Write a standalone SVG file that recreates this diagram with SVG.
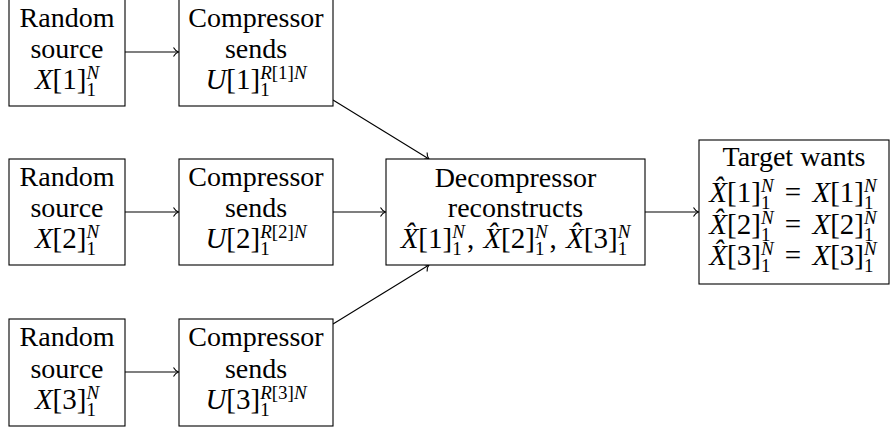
<svg xmlns="http://www.w3.org/2000/svg" width="892" height="431" viewBox="0 0 892 431">
<style>
.box{fill:#fff;stroke:#000;stroke-width:1.1}
.c{fill:none;stroke:#000;stroke-width:1.1}
text{font-family:"Liberation Serif",serif;font-size:28px;text-anchor:middle;fill:#000}
.m{font-size:29px}
.i{font-style:italic}
.s{font-size:19px}
</style>
<defs>
<marker id="to" viewBox="-7 -6 9 12" refX="0" refY="0" markerWidth="9" markerHeight="12" markerUnits="userSpaceOnUse" orient="auto">
<path d="M-5,-4.5 C-3.5,-1.8 -1.5,-0.5 0,0 C-1.5,0.5 -3.5,1.8 -5,4.5" fill="none" stroke="#000" stroke-width="1.1"/>
</marker>
</defs>
<g id="connectors">
<line class="c" x1="125" y1="52" x2="178.5" y2="52" marker-end="url(#to)"/>
<line class="c" x1="125" y1="212" x2="178.5" y2="212" marker-end="url(#to)"/>
<line class="c" x1="125" y1="372" x2="178.5" y2="372" marker-end="url(#to)"/>
<line class="c" x1="333" y1="100" x2="429" y2="159" marker-end="url(#to)"/>
<line class="c" x1="333" y1="212" x2="385.5" y2="212" marker-end="url(#to)"/>
<line class="c" x1="333" y1="324" x2="429" y2="265" marker-end="url(#to)"/>
<line class="c" x1="645" y1="212" x2="698.5" y2="212" marker-end="url(#to)"/>
</g>
<g id="source1">
<rect class="box" x="9" y="-1.2" width="116" height="107.2"/>
<text x="67" y="27">Random</text>
<text x="67" y="58">source</text>
<text class="m" x="67" y="89"><tspan class="i">X</tspan>[1]<tspan class="s" dy="7">1</tspan><tspan class="s i" dx="-9.5" dy="-17">N</tspan></text>
</g>
<g id="compressor1">
<rect class="box" x="179" y="-1.2" width="154" height="107.2"/>
<text x="256" y="27">Compressor</text>
<text x="256" y="58">sends</text>
<text class="m" x="256" y="89"><tspan class="i">U</tspan>[1]<tspan class="s" dy="7">1</tspan><tspan class="s" dx="-9.5" dy="-17"><tspan class="i">R</tspan>[1]<tspan class="i">N</tspan></tspan></text>
</g>
<g id="source2">
<rect class="box" x="9" y="159" width="116" height="106"/>
<text x="67" y="186">Random</text>
<text x="67" y="217">source</text>
<text class="m" x="67" y="248"><tspan class="i">X</tspan>[2]<tspan class="s" dy="7">1</tspan><tspan class="s i" dx="-9.5" dy="-17">N</tspan></text>
</g>
<g id="compressor2">
<rect class="box" x="179" y="159" width="154" height="106"/>
<text x="256" y="186">Compressor</text>
<text x="256" y="217">sends</text>
<text class="m" x="256" y="248"><tspan class="i">U</tspan>[2]<tspan class="s" dy="7">1</tspan><tspan class="s" dx="-9.5" dy="-17"><tspan class="i">R</tspan>[2]<tspan class="i">N</tspan></tspan></text>
</g>
<g id="source3">
<rect class="box" x="9" y="319" width="116" height="107"/>
<text x="67" y="346">Random</text>
<text x="67" y="378">source</text>
<text class="m" x="67" y="409"><tspan class="i">X</tspan>[3]<tspan class="s" dy="7">1</tspan><tspan class="s i" dx="-9.5" dy="-17">N</tspan></text>
</g>
<g id="compressor3">
<rect class="box" x="179" y="319" width="154" height="107"/>
<text x="256" y="346">Compressor</text>
<text x="256" y="378">sends</text>
<text class="m" x="256" y="409"><tspan class="i">U</tspan>[3]<tspan class="s" dy="7">1</tspan><tspan class="s" dx="-9.5" dy="-17"><tspan class="i">R</tspan>[3]<tspan class="i">N</tspan></tspan></text>
</g>
<g id="decompressor">
<rect class="box" x="386" y="159" width="259" height="106"/>
<text x="515.5" y="187">Decompressor</text>
<text x="515.5" y="217">reconstructs</text>
<text class="m" x="515.5" y="248"><tspan class="i">X&#x302;</tspan>[1]<tspan class="s" dy="7">1</tspan><tspan class="s i" dx="-9.5" dy="-17">N</tspan><tspan dx="2" dy="10">, </tspan><tspan class="i" dx="2">X&#x302;</tspan>[2]<tspan class="s" dy="7">1</tspan><tspan class="s i" dx="-9.5" dy="-17">N</tspan><tspan dx="2" dy="10">, </tspan><tspan class="i" dx="2">X&#x302;</tspan>[3]<tspan class="s" dy="7">1</tspan><tspan class="s i" dx="-9.5" dy="-17">N</tspan></text>
</g>
<g id="target">
<rect class="box" x="699" y="140" width="190" height="144"/>
<text x="794" y="166">Target wants</text>
<text class="m" x="793" y="202"><tspan class="i">X&#x302;</tspan>[1]<tspan class="s" dy="7">1</tspan><tspan class="s i" dx="-9.5" dy="-17">N</tspan><tspan dx="4" dy="10"> = </tspan><tspan class="i" dx="4">X</tspan>[1]<tspan class="s" dy="7">1</tspan><tspan class="s i" dx="-9.5" dy="-17">N</tspan></text>
<text class="m" x="793" y="234"><tspan class="i">X&#x302;</tspan>[2]<tspan class="s" dy="7">1</tspan><tspan class="s i" dx="-9.5" dy="-17">N</tspan><tspan dx="4" dy="10"> = </tspan><tspan class="i" dx="4">X</tspan>[2]<tspan class="s" dy="7">1</tspan><tspan class="s i" dx="-9.5" dy="-17">N</tspan></text>
<text class="m" x="793" y="265"><tspan class="i">X&#x302;</tspan>[3]<tspan class="s" dy="7">1</tspan><tspan class="s i" dx="-9.5" dy="-17">N</tspan><tspan dx="4" dy="10"> = </tspan><tspan class="i" dx="4">X</tspan>[3]<tspan class="s" dy="7">1</tspan><tspan class="s i" dx="-9.5" dy="-17">N</tspan></text>
</g>
</svg>
